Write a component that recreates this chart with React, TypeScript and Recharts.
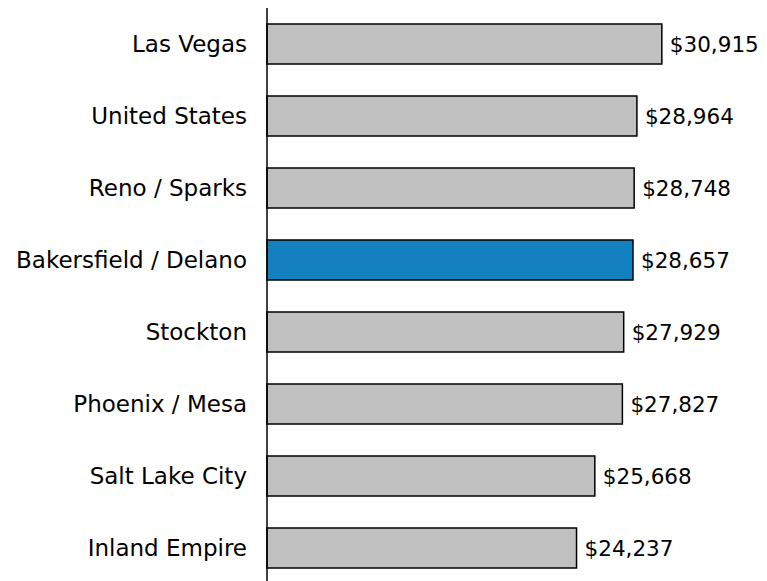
import { Bar, BarChart, Cell, LabelList, XAxis, YAxis } from "recharts";

const cities = [
  "Las Vegas",
  "United States",
  "Reno / Sparks",
  "Bakersfield / Delano",
  "Stockton",
  "Phoenix / Mesa",
  "Salt Lake City",
  "Inland Empire",
];
const incomes = [30915, 28964, 28748, 28657, 27929, 27827, 25668, 24237];
const highlighted = "Bakersfield / Delano";

const data = cities.map((name, i) => ({ name, income: incomes[i] }));

const font = "Tahoma, 'DejaVu Sans', sans-serif";

export default function App() {
  return (
    <div style={{ position: "absolute", left: 0, top: 0, fontFamily: font }}>
      <BarChart
        width={767}
        height={586}
        data={data}
        layout="vertical"
        margin={{ top: 8, right: 53, bottom: 2, left: 0 }}
        barSize={40}
      >
        <XAxis type="number" domain={[0, 35000]} hide />
        <YAxis
          type="category"
          dataKey="name"
          width={267}
          tickLine={false}
          tickSize={0}
          tickMargin={20}
          axisLine={{ stroke: "#000", strokeWidth: 1.5 }}
          tick={{ fill: "#000", fontSize: 23, fontFamily: font }}
        />
        <Bar dataKey="income" stroke="#000" strokeWidth={1.5} isAnimationActive={false}>
          {data.map((d) => (
            <Cell key={d.name} fill={d.name === highlighted ? "#1380bf" : "#c0c0c0"} />
          ))}
          <LabelList
            dataKey="income"
            position="right"
            offset={8}
            fill="#000"
            fontSize={21.5}
            fontFamily={font}
            formatter={(v: number) => "$" + v.toLocaleString("en-US")}
          />
        </Bar>
      </BarChart>
    </div>
  );
}
